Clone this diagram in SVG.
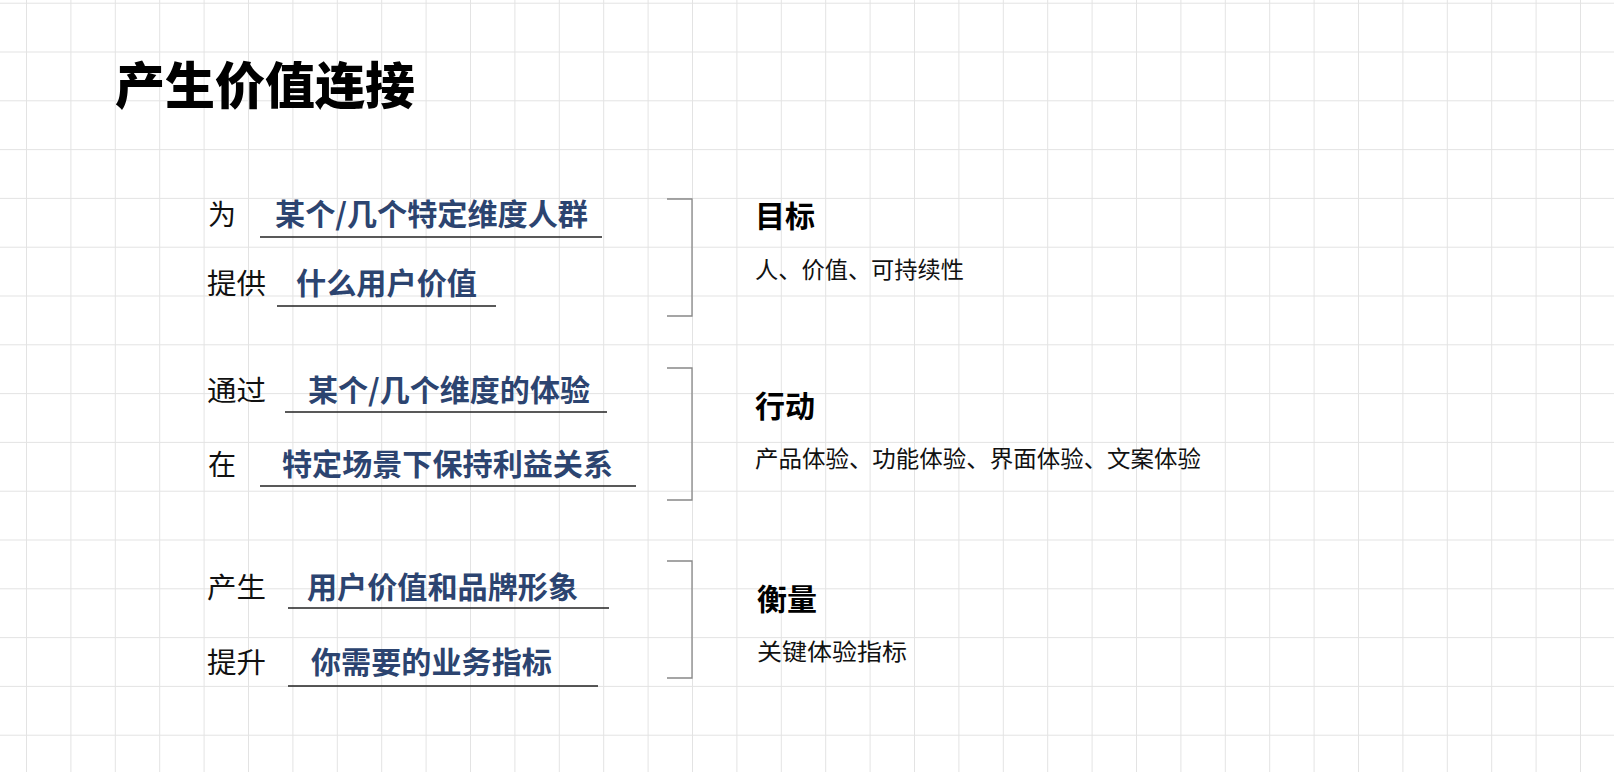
<svg xmlns="http://www.w3.org/2000/svg" width="1614" height="772" viewBox="0 0 1614 772">
<defs>
<pattern id="grid" x="26" y="2.7" width="44.4" height="48.8" patternUnits="userSpaceOnUse">
<path d="M0 0V48.8M0 0H44.4" fill="none" stroke="#e3e3e3" stroke-width="2"/>
</pattern>
</defs>
<style>
text{font-family:"Noto Sans CJK SC","Noto Sans",sans-serif}
.t{font-size:50px;font-weight:900;fill:#000}
.l{font-size:28px;fill:#111}
.b{font-size:30px;font-weight:bold;fill:#2c4470}
.h{font-size:30px;font-weight:bold;fill:#000}
.s{font-size:23px;fill:#111}
.u{stroke:#222;stroke-width:1.3}
.br{fill:none;stroke:#888;stroke-width:1.3}
</style>
<rect width="1614" height="772" fill="#fff"/>
<rect width="1614" height="772" fill="url(#grid)"/>
<text class="t" x="115" y="104" textLength="300" lengthAdjust="spacingAndGlyphs">产生价值连接</text>
<g id="row1">
<text class="l" x="208" y="225">为</text>
<text class="b" x="275" y="225" textLength="313" lengthAdjust="spacingAndGlyphs">某个/几个特定维度人群</text>
<line class="u" x1="260" y1="237" x2="602" y2="237"/>
<text class="l" x="207" y="294" textLength="59" lengthAdjust="spacingAndGlyphs">提供</text>
<text class="b" x="296" y="294" textLength="181" lengthAdjust="spacingAndGlyphs">什么用户价值</text>
<line class="u" x1="277" y1="306" x2="496" y2="306"/>
</g>
<g id="row2">
<text class="l" x="207" y="401" textLength="59" lengthAdjust="spacingAndGlyphs">通过</text>
<text class="b" x="308" y="401" textLength="282" lengthAdjust="spacingAndGlyphs">某个/几个维度的体验</text>
<line class="u" x1="285" y1="412" x2="607" y2="412"/>
<text class="l" x="208" y="475">在</text>
<text class="b" x="282" y="475" textLength="331" lengthAdjust="spacingAndGlyphs">特定场景下保持利益关系</text>
<line class="u" x1="260" y1="486" x2="636" y2="486"/>
</g>
<g id="row3">
<text class="l" x="207" y="598" textLength="59" lengthAdjust="spacingAndGlyphs">产生</text>
<text class="b" x="307" y="598" textLength="271" lengthAdjust="spacingAndGlyphs">用户价值和品牌形象</text>
<line class="u" x1="288" y1="608" x2="609" y2="608"/>
<text class="l" x="207" y="673" textLength="59" lengthAdjust="spacingAndGlyphs">提升</text>
<text class="b" x="311" y="673" textLength="241" lengthAdjust="spacingAndGlyphs">你需要的业务指标</text>
<line class="u" x1="288" y1="686" x2="598" y2="686"/>
</g>
<g id="connectors">
<path class="br" d="M667 199H692V316H667"/>
<path class="br" d="M667 368H692V500H667"/>
<path class="br" d="M667 561H692V678H667"/>
</g>
<g id="goal">
<text class="h" x="755" y="227">目标</text>
<text class="s" x="755" y="278" textLength="209" lengthAdjust="spacingAndGlyphs">人、价值、可持续性</text>
</g>
<g id="action">
<text class="h" x="755" y="417">行动</text>
<text class="s" x="755" y="467" textLength="446" lengthAdjust="spacingAndGlyphs">产品体验、功能体验、界面体验、文案体验</text>
</g>
<g id="measure">
<text class="h" x="757" y="610">衡量</text>
<text class="s" x="757" y="660" textLength="150" lengthAdjust="spacingAndGlyphs">关键体验指标</text>
</g>
</svg>
